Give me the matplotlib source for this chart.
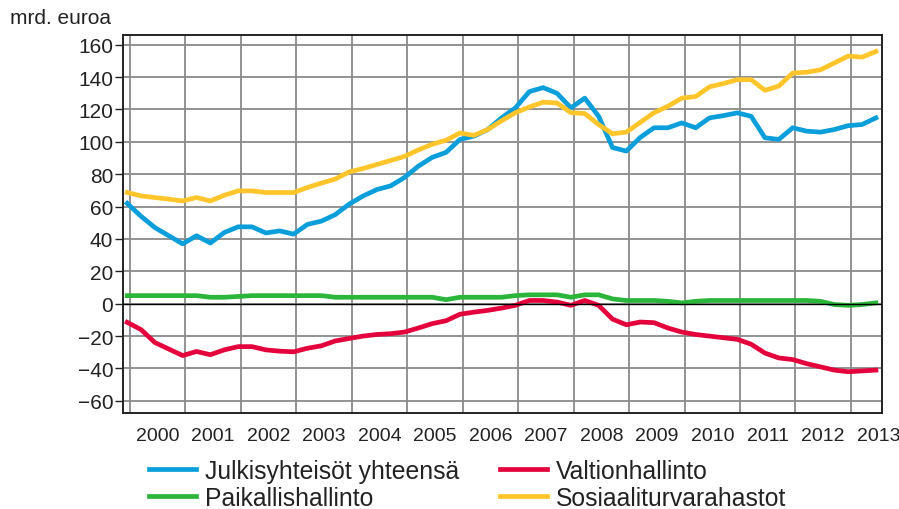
import numpy as np
import matplotlib.pyplot as plt

# quarters 1999Q4 .. 2013Q2
years = [1999] + [y for y in range(2000, 2013) for _ in range(4)] + [2013, 2013]
quarters = [4] + [1, 2, 3, 4] * 13 + [1, 2]

julkisyhteisot = [62, 54, 47, 42, 37, 42, 37.5, 44, 47.5, 47.5, 43.7, 45, 43,
                  49, 51, 55, 61.5, 66.5, 70.5, 72.8, 78, 85, 90.4, 93.5,
                  101.5, 103.5, 107.6, 114.8, 121, 131, 133.5, 130, 121, 127,
                  115.8, 96.5, 94.3, 102.7, 108.7, 108.7, 111.7, 108.7, 114.8,
                  116.2, 117.9, 115.8, 102.5, 101.5, 108.7, 106.6, 106, 107.6,
                  110, 110.7, 114.8]
valtionhallinto = [-11.5, -16, -24, -28, -32, -29.5, -31.5, -28.5, -26.5, -26.5,
                   -28.5, -29.3, -29.7, -27.5, -26, -23, -21.5, -20, -19, -18.5,
                   -17.5, -15, -12.3, -10.5, -6.5, -5.2, -4.1, -2.7, -1, 2, 2, 1,
                   -1, 2, -1, -9.5, -13, -11.3, -11.7, -15, -17.5, -19, -20, -21,
                   -22, -25, -30.5, -33.5, -34.5, -37, -39, -41, -42, -41.5, -41]
paikallishallinto = [5, 5, 5, 5, 5, 5, 4, 4, 4.5, 5, 5, 5, 5, 5, 5, 4, 4, 4, 4,
                     4, 4, 4, 4, 2.5, 4, 4, 4, 4, 5, 5.5, 5.5, 5.5, 4, 5.5, 5.5,
                     3, 2, 2, 2, 1.5, 0.5, 1.5, 2, 2, 2, 2, 2, 2, 2, 2, 1.5,
                     -0.5, -1, -0.5, 0.5]
sosiaaliturva = [68.7, 66.6, 65.6, 64.6, 63.5, 65.6, 63.5, 67, 69.7, 69.7, 68.7,
                 68.7, 68.7, 71.8, 74.5, 77, 81.4, 83.5, 86, 88.5, 91, 95, 98.5,
                 101, 105.5, 104, 107.6, 113, 118, 121.5, 124.5, 124, 118, 117.5,
                 110.7, 105, 106, 112, 118, 122, 127, 128, 134, 136, 138.4,
                 138.4, 131.8, 134.5, 142.5, 143, 144.5, 148.7, 153, 152.3, 155.8]

labels = ["Julkisyhteisöt yhteensä", "Paikallishallinto",
          "Valtionhallinto", "Sosiaaliturvarahastot"]
colors = ["#0a9fdb", "#2cb53b", "#e3023c", "#ffc52b"]

plt.rcParams['font.family'] = ['Liberation Sans', 'DejaVu Sans']

x = np.array(years) + (np.array(quarters) - 0.2) / 4

fig = plt.figure(figsize=(8.99, 5.10), dpi=100)
ax = fig.add_axes([123 / 899, 1 - 414 / 510, (882 - 123) / 899, (414 - 36) / 510])

lw = 3.4
l1, = ax.plot(x, julkisyhteisot, color=colors[0], lw=lw, zorder=3)
l2, = ax.plot(x, paikallishallinto, color=colors[1], lw=lw, zorder=3)
l3, = ax.plot(x, valtionhallinto, color=colors[2], lw=lw, zorder=3)
l4, = ax.plot(x, sosiaaliturva, color=colors[3], lw=lw, zorder=3)
ax.axhline(0, color='black', lw=1, zorder=4)

ax.set_xlim(1999.874, 2013.56)
ax.set_ylim(-67.5, 166)

ax.set_yticks(np.arange(-60, 161, 20))
ax.set_xticks(np.arange(2000, 2014) + 0.5)
ax.set_xticklabels([str(y) for y in range(2000, 2014)])
ax.set_xticks(np.arange(2000, 2014), minor=True)

ax.grid(False)
ax.grid(True, axis='x', which='minor', color='#8a8a8a', lw=1.3, zorder=1)
ax.grid(True, axis='y', which='major', color='#8a8a8a', lw=1.3, zorder=1)

ax.tick_params(axis='y', length=6, width=1, pad=1, labelsize=15, colors='#222222')
ax.tick_params(axis='x', which='both', length=0, pad=10, labelsize=14, colors='#222222')

for side in ['left', 'bottom', 'top', 'right']:
    ax.spines[side].set_color('#222222')
    ax.spines[side].set_linewidth(1.4)

fig.text(10 / 899, 1 - 18 / 510, "mrd. euroa", fontsize=15, va='center', ha='left', color='#222222')

fig.legend([l1, l2, l3, l4], labels, ncol=2, frameon=False,
           loc='upper left', bbox_to_anchor=(149 / 899, 1 - 460 / 510),
           borderaxespad=0, borderpad=0, fontsize=17.8, handlelength=1.9,
           handletextpad=0.36, columnspacing=1.65, labelspacing=0.12,
           labelcolor='#222222')

fig.savefig("out.png", dpi=100)
